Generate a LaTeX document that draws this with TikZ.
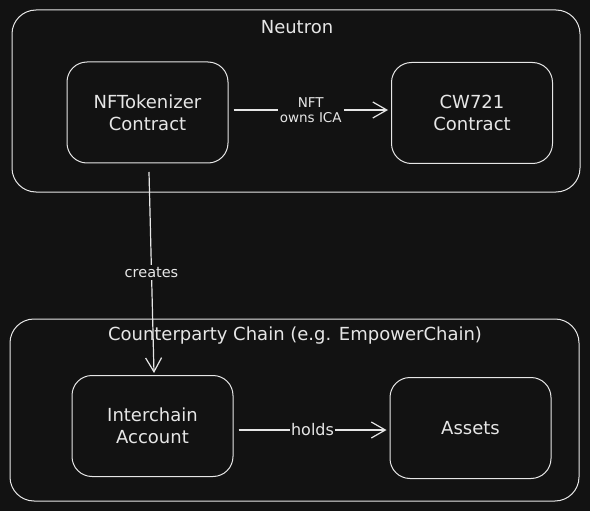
\documentclass[tikz,border=0pt]{standalone}
\usepackage{fontspec}
\setmainfont{DejaVu Sans}
\usetikzlibrary{arrows.meta}
\definecolor{bg}{HTML}{121212}
\definecolor{ink}{HTML}{E6E6E6}
\begin{document}
\begin{tikzpicture}[x=1pt,y=-1pt,
  groupbox/.style={draw=ink, line width=1pt, rounded corners=24pt},
  itembox/.style={draw=ink, line width=1pt, rounded corners=20pt, minimum width=161pt, minimum height=101pt, text=ink, align=center, font=\fontsize{18}{22}\selectfont, inner sep=0pt},
  grouptitle/.style={text=ink, font=\fontsize{18}{20}\selectfont, inner sep=1pt},
  conn/.style={draw=ink, line width=1.2pt, -{Straight Barb[length=14pt,width=16pt,line width=1.2pt]}},
  lab/.style={fill=bg, text=ink, align=center, font=\fontsize{14.5}{15}\selectfont, inner sep=2pt}
]
\fill[bg] (0,0) rectangle (590,511);
\useasboundingbox (0,0) rectangle (590,511);
% groups
\draw[groupbox] (12,10) rectangle (580,192);
\node[grouptitle] (tneutron) at (297,27) {Neutron};
\draw[groupbox] (10,319) rectangle (579,501);
\node[grouptitle] (tcp) at (295,336) {Counterparty Chain (e.g. EmpowerChain)};
% items
\node[itembox] (nft) at (147.5,112.5) {NFTokenizer\\Contract};
\node[itembox] (cw) at (472,113) {CW721\\Contract};
\node[itembox] (ica) at (152.5,426) {Interchain\\Account};
\node[itembox] (assets) at (470.5,428) {Assets};
% connectors
\coordinate (nftb) at (149,172);
\coordinate (icat) at (154,373);
\draw[conn] (nft.east |- 0,110) ++(5,0) -- node[lab, font=\fontsize{13.5}{15}\selectfont] {NFT\\owns ICA} ([xshift=-3pt]cw.west |- 0,110);
\draw[conn] (nftb) -- node[lab] {creates} (icat);
\draw[conn] ([xshift=5pt]ica.east |- 0,430) -- node[lab, font=\fontsize{16}{17}\selectfont, inner sep=1pt] {holds} ([xshift=-3pt]assets.west |- 0,430);
\end{tikzpicture}
\end{document}
